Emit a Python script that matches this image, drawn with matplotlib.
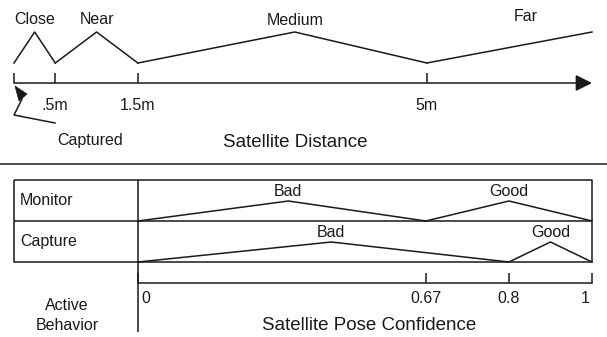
import numpy as np
import matplotlib
matplotlib.use("Agg")
import matplotlib.pyplot as plt
import matplotlib.transforms as mtransforms
from matplotlib.patches import Polygon

# Fuzzy sets for satellite distance and pose confidence

# distance (m) fuzzy sets, membership goes 0 -> 1 -> 0
close_d = [0, 0.25, 0.5]
near_d = [0.5, 1.0, 1.5]
medium_d = [1.5, 3.4, 5.0]
far_d = [5.0, 7.0]
tri_mu = [0, 1, 0]
ramp_mu = [0, 1]
dist_ticks = [0, 0.5, 1.5, 5]
dist_labels = ["", ".5m", "1.5m", "5m"]
far_label_d = 6.2

# pose confidence fuzzy sets per behaviour
monitor_bad = [0, 0.35, 0.67]
monitor_good = [0.67, 0.8, 1.0]
capture_bad = [0, 0.45, 0.8]
capture_good = [0.8, 0.9, 1.0]
conf_ticks = [0, 0.67, 0.8, 1]
conf_labels = ["0", "0.67", "0.8", "1"]
# the confidence axis in the figure is not drawn to scale
conf_anchor = [0, 0.67, 0.8, 1]
conf_pos = [0, 0.634, 0.817, 1]

plt.rcParams["font.family"] = ["Liberation Sans", "DejaVu Sans"]

W, H = 607, 337
INK = "#1a1a1a"
LW = 1.1
FS = 11.5
FS_TITLE = 13.5


def rect(x0, y0, x1, y1):
    return [x0 / W, 1 - y1 / H, (x1 - x0) / W, (y1 - y0) / H]


def fwd(v):
    return np.interp(v, conf_anchor, conf_pos)


def inv(p):
    return np.interp(p, conf_pos, conf_anchor)


fig = plt.figure(figsize=(W / 100, H / 100), dpi=100)

# background canvas for the frame lines and the free text
canvas = fig.add_axes([0, 0, 1, 1])
canvas.set_xlim(0, W)
canvas.set_ylim(H, 0)
canvas.axis("off")

kw = dict(color=INK, lw=LW, solid_capstyle="butt")
canvas.plot([0, W], [164, 164], **kw)
canvas.plot([14, 592, 592, 14, 14], [180, 180, 262, 262, 180], **kw)
canvas.plot([14, 592], [221, 221], **kw)
canvas.plot([138, 138], [180, 332], **kw)

canvas.text(20, 205, "Monitor", fontsize=FS, color=INK, va="baseline")
canvas.text(20, 246, "Capture", fontsize=FS, color=INK, va="baseline")
canvas.text(67, 310, "Active", fontsize=FS, color=INK, ha="center", va="baseline")
canvas.text(67, 330, "Behavior", fontsize=FS, color=INK, ha="center", va="baseline")
canvas.text(295, 147, "Satellite Distance", fontsize=FS_TITLE, color=INK,
            ha="center", va="baseline")
canvas.text(369, 330, "Satellite Pose Confidence", fontsize=FS_TITLE, color=INK,
            ha="center", va="baseline")

# "Captured" pointer
canvas.text(90, 145, "Captured", fontsize=FS, color=INK, ha="center", va="baseline")
canvas.plot([55, 14, 22], [123, 115, 99], color=INK, lw=LW)
canvas.add_patch(Polygon([(15, 86), (27, 94), (19, 101)], closed=True,
                         facecolor=INK, edgecolor=INK, lw=0.5))

# distance axis
ax = fig.add_axes(rect(14, 32, 592, 83))
ax.set_xlim(0, 7)
ax.set_ylim(-20 / 31, 1)
ax.patch.set_visible(False)
for s in ax.spines.values():
    s.set_visible(False)
ax.set_yticks([])
ax.set_xticks(dist_ticks, dist_labels)
ax.tick_params(axis="x", direction="in", length=7.2, width=LW, color=INK,
               pad=11, labelsize=FS, labelcolor=INK)
ax.annotate("", xy=(1, 0), xycoords="axes fraction", xytext=(0, 0),
            textcoords="axes fraction",
            arrowprops=dict(arrowstyle="-|>,head_length=1.0,head_width=0.5",
                            color=INK, lw=LW, shrinkA=0, shrinkB=0))

for xs in (close_d, near_d, medium_d):
    ax.plot(xs, tri_mu, color=INK, lw=LW, clip_on=False)
ax.plot(far_d, ramp_mu, color=INK, lw=LW, clip_on=False)

ax.text(close_d[1], 1.26, "Close", fontsize=FS, color=INK, ha="center", va="baseline")
ax.text(near_d[1], 1.26, "Near", fontsize=FS, color=INK, ha="center", va="baseline")
ax.text(medium_d[1], 1.23, "Medium", fontsize=FS, color=INK, ha="center", va="baseline")
ax.text(far_label_d, 1.35, "Far", fontsize=FS, color=INK, ha="center", va="baseline")

# behaviour rows
rows = [(180, 221, monitor_bad, monitor_good), (221, 262, capture_bad, capture_good)]
for y0, y1, bad, good in rows:
    axr = fig.add_axes(rect(138, y0, 592, y1))
    axr.set_xscale("function", functions=(fwd, inv))
    axr.set_xlim(0, 1)
    axr.set_ylim(0, (y1 - y0) / 20)
    axr.axis("off")
    axr.plot(bad, tri_mu, color=INK, lw=LW, clip_on=False)
    axr.plot(good, tri_mu, color=INK, lw=LW, clip_on=False)
    axr.text(bad[1], 1.27, "Bad", fontsize=FS, color=INK, ha="center", va="baseline")
    axr.text(good[1], 1.27, "Good", fontsize=FS, color=INK, ha="center", va="baseline")

# confidence axis
axc = fig.add_axes(rect(138, 262, 592, 283))
axc.set_xscale("function", functions=(fwd, inv))
axc.set_xlim(0, 1)
axc.patch.set_visible(False)
for name, s in axc.spines.items():
    s.set_visible(name == "bottom")
axc.spines["bottom"].set_linewidth(LW)
axc.spines["bottom"].set_color(INK)
axc.set_yticks([])
axc.set_xticks(conf_ticks, conf_labels)
axc.xaxis.set_minor_locator(matplotlib.ticker.NullLocator())
axc.tick_params(axis="x", direction="in", length=7.2, width=LW, color=INK,
                pad=6, labelsize=FS, labelcolor=INK)
labs = axc.get_xticklabels()
labs[0].set_ha("left")
labs[0].set_transform(labs[0].get_transform()
                      + mtransforms.ScaledTranslation(0.03, 0, fig.dpi_scale_trans))
labs[-1].set_ha("right")
labs[-1].set_transform(labs[-1].get_transform()
                       + mtransforms.ScaledTranslation(-0.02, 0, fig.dpi_scale_trans))

fig.savefig("out.png", dpi=100)
